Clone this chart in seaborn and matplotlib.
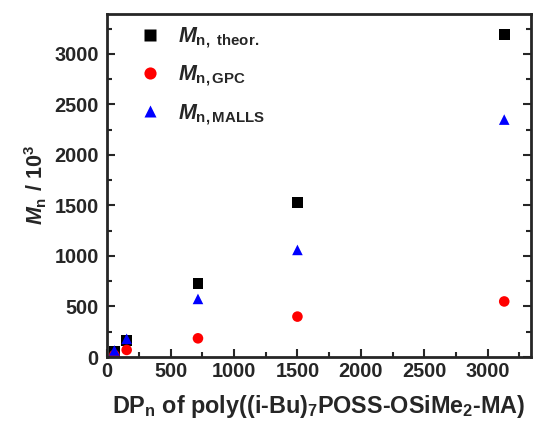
import pandas as pd
import matplotlib.pyplot as plt
import seaborn as sns
from matplotlib.ticker import MultipleLocator

# Datos
dp_n = [57, 154, 716, 1500, 3130]
mn_theor = [55, 165, 730, 1530, 3190]
mn_gpc = [20, 70, 185, 400, 550]
mn_malls = [65, 180, 575, 1060, 2350]

series = [r'$M_{\mathrm{n,\ theor.}}$', r'$M_{\mathrm{n,GPC}}$', r'$M_{\mathrm{n,MALLS}}$']

df = pd.concat([
    pd.DataFrame({'DP': dp_n, 'Mn': mn_theor, 'serie': series[0]}),
    pd.DataFrame({'DP': dp_n, 'Mn': mn_gpc, 'serie': series[1]}),
    pd.DataFrame({'DP': dp_n, 'Mn': mn_malls, 'serie': series[2]}),
], ignore_index=True)

sns.set_style('ticks')
plt.rcParams['font.family'] = ['Liberation Sans', 'DejaVu Sans']
plt.rcParams['font.weight'] = 'bold'
plt.rcParams['mathtext.fontset'] = 'custom'
plt.rcParams['mathtext.rm'] = 'Liberation Sans:bold'
plt.rcParams['mathtext.it'] = 'Liberation Sans:bold:italic'
plt.rcParams['mathtext.bf'] = 'Liberation Sans:bold'

fig = plt.figure(figsize=(5.33, 4.22), dpi=100)
ax = fig.add_axes([0.201, 0.154, 0.795, 0.814])

sns.scatterplot(data=df, x='DP', y='Mn', hue='serie', style='serie',
                palette=['black', 'red', 'blue'], markers=['s', 'o', '^'],
                s=58, edgecolor='none', ax=ax)

ax.set_xlim(0, 3340)
ax.set_ylim(0, 3400)
ax.xaxis.set_major_locator(MultipleLocator(500))
ax.xaxis.set_minor_locator(MultipleLocator(250))
ax.yaxis.set_major_locator(MultipleLocator(500))
ax.yaxis.set_minor_locator(MultipleLocator(250))
ax.tick_params(which='both', direction='in', width=1.5, labelsize=14.3, right=True, top=False)
ax.tick_params(which='major', length=6)
ax.tick_params(which='minor', length=3.5)
ax.tick_params(axis='y', pad=6)
for sp in ax.spines.values():
    sp.set_linewidth(2)
    sp.set_visible(True)

ax.set_xlabel(r'DP$_\mathrm{n}$ of poly((i-Bu)$_7$POSS-OSiMe$_2$-MA)', fontsize=16.8, fontweight='bold', labelpad=9)
ax.set_ylabel(r'$M_\mathrm{n}\ /\ 10^3$', fontsize=15.5, fontweight='bold', labelpad=4)

ax.legend(frameon=False, loc='upper left', bbox_to_anchor=(0.056, 0.99), borderaxespad=0,
          fontsize=15.5, markerscale=1.15, handlelength=1.0, handletextpad=0.8,
          labelspacing=0.62, title=None)

plt.savefig('out.png', dpi=100)
